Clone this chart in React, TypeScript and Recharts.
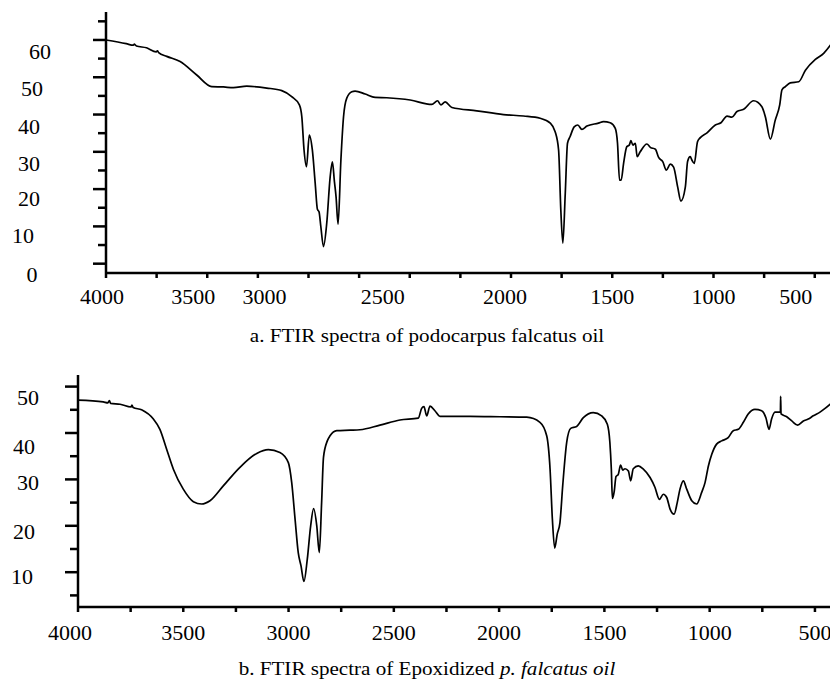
import { Line, LineChart, XAxis, YAxis } from "recharts";

// shared wavenumber axis (cm-1)
const wavenumberTicks = [4000, 3750, 3500, 3250, 3000, 2750, 2500, 2250, 2000, 1750, 1500, 1250, 1000, 750, 500];
const wavenumberLabels = [4000, 3500, 3000, 2500, 2000, 1500, 1000, 500];

// a. podocarpus falcatus oil
const oilTicks = [0, 5, 10, 15, 20, 25, 30, 35, 40, 45, 50, 55, 60, 65];
const oilLabels = [0, 10, 20, 30, 40, 50, 60];
const oilWavenumber = [
  4000, 3900, 3865, 3860, 3856, 3850, 3800, 3752, 3746, 3740, 3700, 3634, 3552, 3478, 3420, 3371, 3305, 3206,
  3132, 3083, 3045, 3033, 3022, 3010, 2996, 2981, 2967, 2956, 2948, 2939, 2926, 2910, 2893, 2882, 2872, 2864,
  2854, 2840, 2827, 2811, 2786, 2770, 2720, 2671, 2614, 2498, 2391, 2363, 2346, 2325, 2292, 2169, 2037, 1938,
  1856, 1806, 1782, 1765, 1754, 1744, 1732, 1721, 1708, 1688, 1670, 1650, 1625, 1568, 1543, 1510, 1485, 1474,
  1464, 1456, 1444, 1428, 1416, 1408, 1398, 1386, 1377, 1362, 1329, 1312, 1287, 1271, 1250, 1233, 1213, 1197,
  1177, 1161, 1139, 1128, 1115, 1107, 1095, 1079, 1065, 1032, 991, 963, 933, 909, 884, 851, 802, 761, 744, 719,
  695, 673, 662, 645, 621, 579, 546, 497, 456, 420,
];
const oilTransmittance = [
  60.0, 59.0, 58.6, 58.9, 58.7, 58.4, 57.9, 56.8, 57.1, 56.6, 55.6, 54.2, 50.6, 47.5, 47.4, 47.2, 47.6, 47.1,
  46.4, 44.8, 42.6, 39.4, 30.5, 26.0, 34.5, 30.5, 21.6, 14.6, 13.9, 9.9, 4.6, 10.8, 23.3, 27.3, 22.0, 18.0,
  10.6, 27.8, 39.4, 44.4, 46.1, 46.3, 45.5, 44.6, 44.5, 43.9, 42.7, 43.7, 42.6, 43.4, 41.9, 41.0, 40.0, 39.6,
  39.0, 37.7, 35.4, 30.5, 14.4, 5.5, 18.9, 32.3, 34.1, 36.7, 37.2, 36.0, 36.9, 37.7, 38.1, 37.8, 36.3, 32.3,
  22.4, 22.4, 26.9, 31.4, 31.8, 33.0, 31.8, 32.3, 28.7, 30.0, 32.1, 31.2, 30.7, 28.5, 27.3, 25.1, 26.7, 25.9,
  20.6, 16.8, 20.6, 27.4, 28.7, 27.8, 26.9, 32.7, 33.8, 35.1, 37.2, 37.8, 39.6, 39.3, 40.8, 41.4, 43.7, 42.1, 39.4, 33.4,
  38.5, 42.6, 46.6, 47.5, 48.5, 48.8, 51.9, 54.8, 56.4, 58.8,
];

// b. epoxidized p. falcatus oil
const epoxyTicks = [5, 10, 15, 20, 25, 30, 35, 40, 45, 50];
const epoxyLabels = [10, 20, 30, 40, 50];
const epoxyWavenumber = [
  4000, 3880, 3858, 3851, 3845, 3800, 3748, 3744, 3738, 3698, 3642, 3611, 3579, 3547, 3500, 3452, 3413, 3373,
  3310, 3231, 3151, 3096, 3041, 3001, 2985, 2969, 2954, 2941, 2927, 2911, 2895, 2881, 2866, 2854, 2843, 2834,
  2816, 2803, 2771, 2708, 2661, 2566, 2471, 2384, 2368, 2357, 2344, 2328, 2305, 2281, 2138, 1996, 1869, 1806,
  1774, 1758, 1747, 1736, 1724, 1711, 1698, 1679, 1660, 1632, 1600, 1553, 1513, 1486, 1474, 1467, 1462, 1453,
  1445, 1434, 1423, 1413, 1402, 1386, 1375, 1363, 1339, 1315, 1283, 1260, 1239, 1220, 1204, 1188, 1169, 1154,
  1141, 1125, 1109, 1085, 1062, 1038, 1022, 1006, 990, 967, 943, 912, 888, 864, 840, 817, 785, 753, 733, 718,
  706, 690, 674, 664, 663, 661, 634, 610, 582, 555, 532, 508, 476, 452, 420,
];
const epoxyTransmittance = [
  47.1, 46.7, 46.5, 47.0, 46.4, 46.2, 45.6, 46.0, 45.5, 45.0, 43.0, 40.8, 36.5, 32.2, 27.9, 25.2, 24.7, 25.4,
  28.6, 32.6, 35.6, 36.4, 35.8, 33.6, 29.3, 21.4, 14.2, 11.4, 8.0, 12.8, 20.0, 23.7, 20.0, 14.2, 25.0, 34.8,
  38.3, 39.4, 40.5, 40.6, 40.7, 41.7, 42.8, 43.2, 45.3, 45.7, 43.7, 45.8, 44.8, 43.6, 43.6, 43.5, 43.4, 42.3,
  39.4, 32.2, 21.4, 15.2, 18.2, 20.7, 28.6, 38.0, 41.0, 41.4, 43.3, 44.4, 43.7, 41.9, 38.0, 32.2, 25.9, 27.5,
  30.6, 31.1, 33.1, 32.0, 32.3, 31.8, 29.7, 32.3, 32.9, 32.2, 30.4, 28.3, 25.7, 26.8, 26.1, 23.6, 22.5, 25.0,
  27.9, 29.7, 27.9, 25.4, 24.7, 27.2, 29.3, 32.9, 35.4, 37.6, 38.3, 39.0, 40.5, 40.8, 42.3, 44.1, 45.1, 44.8, 43.3, 40.8,
  43.0, 44.5, 44.5, 44.5, 47.9, 44.1, 43.5, 42.6, 41.7, 42.6, 43.0, 43.7, 44.5, 45.3, 46.5,
];

const oilData = oilWavenumber.map((wn, i) => ({ wn, t: oilTransmittance[i] }));
const epoxyData = epoxyWavenumber.map((wn, i) => ({ wn, t: epoxyTransmittance[i] }));

const FONT = "'Liberation Serif', 'Times New Roman', serif";
const AXIS = { stroke: "#000", strokeWidth: 2.5 };

// the labels in the original figure sit a bit off their ticks
const oilXShift: Record<number, number> = { 4000: -4, 3500: -14, 3000: -44, 2500: -27, 2000: -6, 500: -19 };
const epoxyXShift: Record<number, number> = { 4000: -8 };
const oilYPlace: Record<number, [number, number]> = {
  0: [-74, 11], 10: [-83, 9], 20: [-77, 9], 30: [-77, 11], 40: [-77, 11.5], 50: [-74, 11], 60: [-66, 11],
};
const epoxyYPlace: Record<number, [number, number]> = {
  10: [-56, 4], 20: [-54, 5.5], 30: [-50, 3], 40: [-54, 13], 50: [-50, 11],
};

function XTick({ x, y, payload, labels, shift, gap }: any) {
  const v = payload.value;
  return (
    <g>
      <line x1={x} x2={x} y1={y} y2={y + 5} stroke="#000" strokeWidth={2.5} />
      {labels.includes(v) && (
        <text x={x + (shift[v] ?? 0)} y={y + gap} dy="0.35em" textAnchor="middle" fontFamily={FONT} fontSize={22} fill="#000">
          {v}
        </text>
      )}
    </g>
  );
}

function YTick({ x, y, payload, labels, place }: any) {
  const v = payload.value;
  const major = labels.includes(v);
  const [dx, dy] = place[v] ?? [0, 0];
  return (
    <g>
      <line x1={x - (major ? 13 : 8)} x2={x} y1={y} y2={y} stroke="#000" strokeWidth={2.5} />
      {major && (
        <text x={x + dx} y={y + dy} dy="0.35em" textAnchor="middle" fontFamily={FONT} fontSize={22} fill="#000">
          {v}
        </text>
      )}
    </g>
  );
}

function Spectrum({ data, yDomain, yTicks, yLabels, yPlace, xShift, gap, width, height, margin, xHeight }: any) {
  return (
    <LineChart width={width} height={height} data={data} margin={margin}>
      <XAxis
        dataKey="wn"
        type="number"
        domain={[400, 4000]}
        reversed
        ticks={wavenumberTicks}
        interval={0}
        height={xHeight}
        axisLine={AXIS}
        tickLine={false}
        tickSize={0}
        tickMargin={0}
        tick={(p: any) => <XTick {...p} labels={wavenumberLabels} shift={xShift} gap={gap} />}
      />
      <YAxis
        type="number"
        domain={yDomain}
        ticks={yTicks}
        interval={0}
        width={60}
        axisLine={AXIS}
        tickLine={false}
        tickSize={0}
        tickMargin={0}
        tick={(p: any) => <YTick {...p} labels={yLabels} place={yPlace} />}
      />
      <Line type="monotone" dataKey="t" stroke="#000" strokeWidth={1.7} dot={false} isAnimationActive={false} />
    </LineChart>
  );
}

const captionStyle: React.CSSProperties = {
  position: "absolute",
  left: 0,
  width: 854,
  textAlign: "center",
  fontFamily: FONT,
  fontSize: 19,
  lineHeight: "19px",
  whiteSpace: "nowrap",
  transform: "scaleX(1.11)",
};

export default function App() {
  return (
    <div style={{ position: "absolute", left: 0, top: 0, width: 830, height: 679, overflow: "hidden", background: "#fff" }}>
      <div style={{ position: "absolute", left: 0, top: 0 }}>
        <Spectrum
          data={oilData}
          yDomain={[-2.5, 67.5]}
          yTicks={oilTicks}
          yLabels={oilLabels}
          yPlace={oilYPlace}
          xShift={oilXShift}
          gap={23}
          width={835}
          height={310}
          xHeight={37}
          margin={{ top: 12, right: 0, bottom: 0, left: 46 }}
        />
      </div>
      <div style={{ ...captionStyle, top: 325.5 }}>a. FTIR spectra of podocarpus falcatus oil</div>
      <div style={{ position: "absolute", left: 0, top: 360 }}>
        <Spectrum
          data={epoxyData}
          yDomain={[2.5, 52.5]}
          yTicks={epoxyTicks}
          yLabels={epoxyLabels}
          yPlace={epoxyYPlace}
          xShift={epoxyXShift}
          gap={25}
          width={836}
          height={287}
          xHeight={40}
          margin={{ top: 15, right: 0, bottom: 0, left: 18 }}
        />
      </div>
      <div style={{ ...captionStyle, top: 658.5 }}>
        b. FTIR spectra of Epoxidized <i>p. falcatus oil</i>
      </div>
    </div>
  );
}
